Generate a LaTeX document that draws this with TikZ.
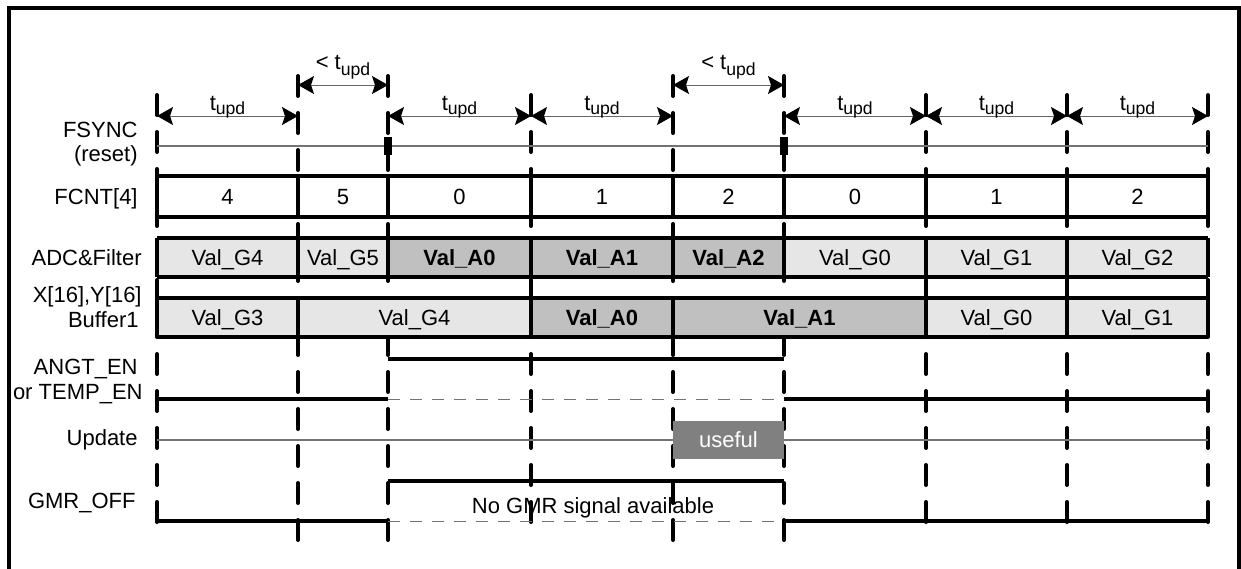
\documentclass[tikz,border=0pt]{standalone}
\usepackage{fontspec}
\setmainfont{Liberation Sans}
\usetikzlibrary{arrows.meta}

\definecolor{valgray}{HTML}{E6E6E6}
\definecolor{accgray}{HTML}{C0C0C0}
\definecolor{usegray}{HTML}{808080}
\newcommand\tupd[1]{t\raisebox{#1}{\fontsize{8.8}{9}\selectfont upd}}

\begin{document}
\begin{tikzpicture}[x=0.5pt, y=-0.5pt, font=\fontsize{11}{13}\selectfont,
  >={Stealth[length=8pt, width=9pt, inset=1.5pt, color=black]},
  slot/.style={line width=2pt, line cap=round, dash pattern=on 10pt off 8.5pt},
  wave/.style={line width=2pt},
  hair/.style={draw=black!55, line width=0.7pt},
  lowref/.style={draw=black!55, line width=0.5pt, dash pattern=on 6pt off 5pt},
  durarrow/.style={<->, draw=black!60, line width=0.5pt},
  durlbl/.style={anchor=base, inner sep=0pt, yshift=3pt},
  lbl/.style={anchor=base east, inner sep=0pt},
  val/.style={anchor=base, inner sep=0pt},
  fval/.style={fill=white},
  gval/.style={fill=valgray},
  aval/.style={fill=accgray, font=\fontsize{11}{13}\selectfont\bfseries}]
\useasboundingbox (0,0) rectangle (1241,568);
\draw[line width=2pt] (9,570) -- (9,8) -- (1239,8) -- (1239,570);

% signal names
\node[lbl] (fsync) at (138,137) {FSYNC};
\node[lbl] (reset) at (138,161) {(reset)};
\node[lbl] (fcnt) at (138,204) {FCNT[4]};
\node[lbl] (adc) at (142,265) {ADC\&Filter};
\node[lbl] (xy) at (142,302) {X[16],Y[16]};
\node[lbl] (buf) at (139,327) {Buffer1};
\node[lbl] (angt) at (138,374) {ANGT\_EN};
\node[lbl] (temp) at (143,399) {or TEMP\_EN};
\node[lbl] (upd) at (138,445) {Update};
\node[lbl] (gmr) at (136,508) {GMR\_OFF};

% frame edges
\foreach \n/\x/\t/\e in {0/157/95/522, 1/298/76/540, 2/388/76/540, 3/531/95/522,
    4/673/76/540, 5/784/76/540, 6/926/95/522, 7/1067/95/522, 8/1208/95/522} {
  \draw[slot] (\x,\t) -- (\x,\e);
  \coordinate (t\n) at (\x,116);
  \coordinate (s\n) at (\x,85);
}

% buses
\foreach \a/\b/\v [count=\i] in {157/298/4, 298/388/5, 388/531/0, 531/673/1,
    673/784/2, 784/926/0, 926/1067/1, 1067/1208/2} {
  \fill[fval] (\a,176) rectangle (\b,217);
  \draw[wave] (\a,176) -- (\a,217) (\b,176) -- (\b,217);
  \node[val] (fcnt\i) at ({(\a+\b)/2},204) {\v};
}
\foreach \a/\b/\v/\s [count=\i] in {157/298/Val\_G4/gval, 298/388/Val\_G5/gval,
    388/531/Val\_A0/aval, 531/673/Val\_A1/aval, 673/784/Val\_A2/aval,
    784/926/Val\_G0/gval, 926/1067/Val\_G1/gval, 1067/1208/Val\_G2/gval} {
  \fill[\s] (\a,238) rectangle (\b,277);
  \draw[wave] (\a,238) -- (\a,277) (\b,238) -- (\b,277);
  \node[val, \s] (adc\i) at ({(\a+\b)/2},265) {\v};
}
\foreach \a/\b/\v/\s [count=\i] in {157/298/Val\_G3/gval, 298/531/Val\_G4/gval,
    531/673/Val\_A0/aval, 673/926/Val\_A1/aval, 926/1067/Val\_G0/gval,
    1067/1208/Val\_G1/gval} {
  \fill[\s] (\a,298) rectangle (\b,337);
  \draw[wave] (\a,298) -- (\a,337) (\b,298) -- (\b,337);
  \node[val, \s] (buf\i) at ({(\a+\b)/2},325) {\v};
}
\foreach \y in {176,217,238,277,298,337}
  \draw[wave] (157,\y) -- (1208,\y);

% FSYNC and Update
\draw[hair] (157,146) -- (1208,146);
\fill (384,137) rectangle (392,155);
\fill (780,137) rectangle (788,155);
\draw[hair] (157,440) -- (1208,440);
\node[fill=usegray, text=white, minimum width=55.5pt, minimum height=19pt,
  inner sep=0pt] (useful) at (728.5,440) {useful};

% enables
\draw[wave] (157,399) -- (388,399) (388,359) -- (784,359) (784,399) -- (1208,399);
\draw[lowref] (388,399) -- (784,399);
\draw[wave] (157,521) -- (388,521) (388,481) -- (784,481) (784,521) -- (1208,521);
\draw[lowref] (388,521) -- (784,521);
\node[val] (nogmr) at (593,513) {No GMR signal available};

% durations
\foreach \a/\b in {0/1, 2/3, 3/4, 5/6, 6/7, 7/8}
  \draw[durarrow] (t\a) -- node[durlbl] (tl\a) {\tupd{-2pt}} (t\b);
\foreach \a/\b in {1/2, 4/5}
  \draw[durarrow] (s\a) -- node[durlbl, yshift=5pt] (sl\a) {< \tupd{-3pt}} (s\b);
\end{tikzpicture}
\end{document}
